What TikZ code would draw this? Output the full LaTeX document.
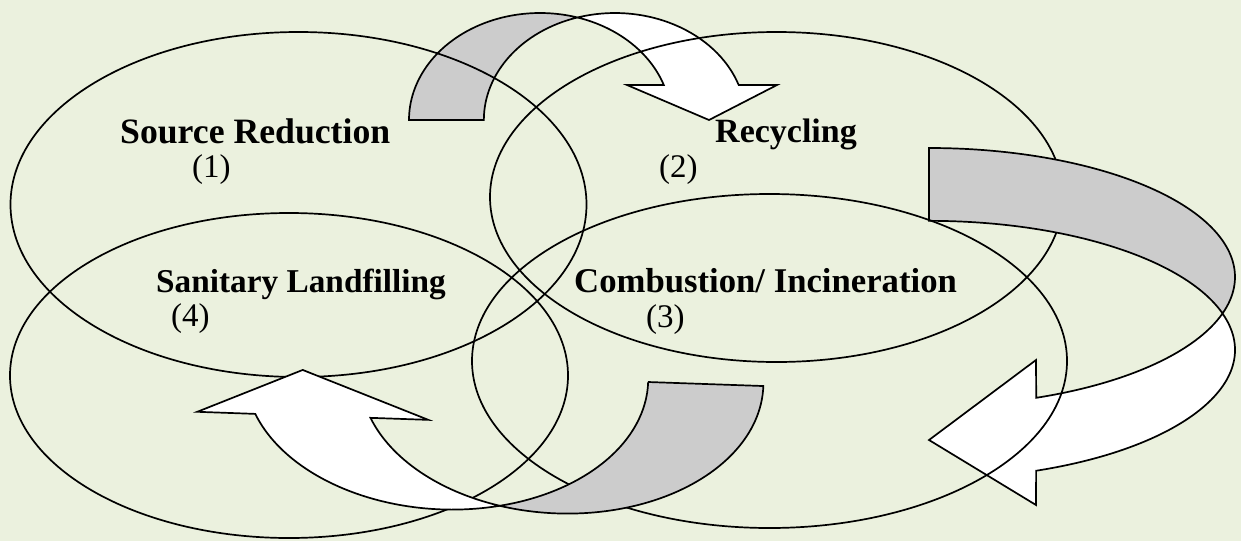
\documentclass[tikz,border=0pt]{standalone}
\usepackage{fontspec}
\setmainfont{Liberation Serif}
\definecolor{bgGreen}{HTML}{EBF1DE}
\definecolor{backGray}{HTML}{CCCCCC}
\tikzset{
  ring/.style={draw=black, line width=1.7pt},
  band/.style={draw=black, line width=1.7pt, line join=miter},
  bandback/.style={band, fill=backGray},
  bandfront/.style={band, fill=white},
  title/.style={font=\fontsize{#1}{40}\selectfont\bfseries, inner sep=0pt, anchor=base west},
  title/.default=34,
  number/.style={font=\fontsize{33}{40}\selectfont, inner sep=0pt, anchor=base west}
}

\begin{document}
\begin{tikzpicture}[x=1pt, y=-1pt]
  % Background and page size
  \fill[bgGreen] (0,0) rectangle (1241,541);
  \useasboundingbox (0,0) rectangle (1241,541);

  % Top arrow: back part, then front part with head
  \draw[bandback] (409,120)
    arc[start angle=180, end angle=286.6, x radius=131, y radius=107]
    arc[start angle=253.4, end angle=180, x radius=131, y radius=107] -- cycle;
  \draw[bandfront] (577.5,17.5)
    arc[start angle=253.4, end angle=340.9, x radius=131, y radius=107]
    -- (777,85) -- (709,120) -- (627,85) -- (663.8,85)
    arc[start angle=340.9, end angle=286.6, x radius=131, y radius=107] -- cycle;

  % Upper ellipses
  \draw[ring] (298.5,204.5) ellipse [x radius=288, y radius=172.5];
  \draw[ring] (776.5,197) ellipse [x radius=286.5, y radius=165];

  % Right arrow: back part, then front part with head
  \draw[bandback] (929,148)
    arc[start angle=-90, end angle=16.4, x radius=306, y radius=129]
    arc[start angle=-16.4, end angle=-90, x radius=306, y radius=129] -- cycle;
  \draw[bandfront] (1222.5,313.5)
    arc[start angle=-16.4, end angle=69.5, x radius=306, y radius=129]
    -- (1036,505) -- (929,440) -- (1036,360) -- (1036.2,397.8)
    arc[start angle=69.5, end angle=16.4, x radius=306, y radius=129] -- cycle;

  % Lower ellipses
  \draw[ring] (769.5,361) ellipse [x radius=297.5, y radius=167];
  \draw[ring] (289,375.5) ellipse [x radius=279, y radius=162.5];

  % Bottom arrow, slightly turned
  \begin{scope}[rotate around={-2:(648,382)}]
    \draw[bandback] (648,382) -- (763.4,382)
      arc[start angle=0, end angle=106.6, x radius=201.7, y radius=134.5]
      arc[start angle=73.4, end angle=0, x radius=201.7, y radius=134.5] -- cycle;
    \draw[bandfront] (504,510.9)
      arc[start angle=73.4, end angle=160.2, x radius=201.7, y radius=134.5]
      -- (198.6,427.5) -- (302.5,382) -- (429.8,427.5) -- (371.9,427.5)
      arc[start angle=160.2, end angle=106.6, x radius=201.7, y radius=134.5] -- cycle;
  \end{scope}

  % Labels
  \node[title=35.7] (srcRed) at (120,143) {Source Reduction};
  \node[number] (srcNum) at (192,177) {(1)};
  \node[title] (recyc) at (715,142) {Recycling};
  \node[number] (recNum) at (659,177) {(2)};
  \node[title=34.7] (combust) at (574,292) {Combustion/ Incineration};
  \node[number] (combNum) at (646,327) {(3)};
  \node[title=33.3] (landfill) at (156,292) {Sanitary Landfilling};
  \node[number] (landNum) at (171,326) {(4)};
\end{tikzpicture}
\end{document}
